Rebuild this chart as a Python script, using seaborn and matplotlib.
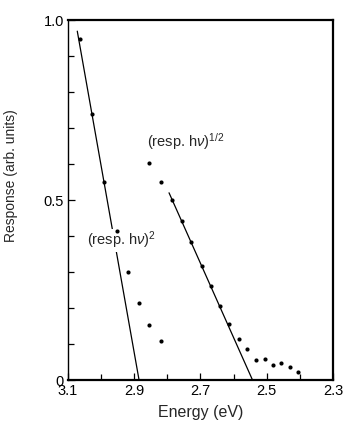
import matplotlib
matplotlib.use("Agg")
import matplotlib.pyplot as plt
import seaborn as sns
import numpy as np
import pandas as pd
from matplotlib.ticker import MultipleLocator, FixedLocator

# (resp. h nu)^2 data
e_sq = [3.064, 3.028, 2.990, 2.953, 2.920, 2.885, 2.854, 2.819]
r_sq = [0.946, 0.740, 0.549, 0.415, 0.301, 0.215, 0.154, 0.108]
# linear fit for (resp. h nu)^2
fit_sq_e = [3.072, 2.8855]
fit_sq_r = [0.969, 0.0]

# (resp. h nu)^1/2 data
e_half = [2.854, 2.818, 2.786, 2.757, 2.728, 2.696, 2.669, 2.642, 2.615,
          2.584, 2.559, 2.532, 2.506, 2.482, 2.457, 2.430, 2.407]
r_half = [0.602, 0.549, 0.499, 0.443, 0.382, 0.318, 0.261, 0.206, 0.155,
          0.115, 0.085, 0.056, 0.058, 0.042, 0.046, 0.037, 0.021]
fit_half_e = [2.795, 2.543]
fit_half_r = [0.520, 0.0]

x_ticks = [3.1, 2.9, 2.7, 2.5, 2.3]
y_ticks = [0, 0.5, 1.0]
y_ticklabels = ["0", "0.5", "1.0"]

sns.set_theme(style="white")
plt.rcParams['font.family'] = ['Liberation Sans', 'DejaVu Sans']
plt.rcParams['mathtext.fontset'] = 'custom'
plt.rcParams['mathtext.rm'] = 'Liberation Sans'
plt.rcParams['mathtext.it'] = 'Liberation Sans:italic'

fig = plt.figure(figsize=(3.43, 4.26), dpi=100)
ax = fig.add_axes([68/343, 46/426, 265/343, 360/426])

df_sq = pd.DataFrame({"E": e_sq, "R": r_sq})
df_half = pd.DataFrame({"E": e_half, "R": r_half})
sns.lineplot(x=fit_sq_e, y=fit_sq_r, ax=ax, color="black", linewidth=0.9, zorder=2)
sns.lineplot(x=fit_half_e, y=fit_half_r, ax=ax, color="black", linewidth=0.9, zorder=2)
sns.scatterplot(data=df_sq, x="E", y="R", ax=ax, color="black", s=9, linewidth=0, zorder=5)
sns.scatterplot(data=df_half, x="E", y="R", ax=ax, color="black", s=9, linewidth=0, zorder=5)

ax.text(3.043, 0.388, r"(resp. h$\nu$)$^2$", fontsize=10.5, ha="left", va="center",
        zorder=4, bbox=dict(facecolor="white", edgecolor="none", pad=0.5))
ax.text(2.862, 0.662, r"(resp. h$\nu$)$^{1/2}$", fontsize=10.5, ha="left", va="center", zorder=4)

ax.set_xlim(3.1, 2.3)
ax.set_ylim(0, 1.0)
ax.xaxis.set_major_locator(FixedLocator(x_ticks))
ax.xaxis.set_minor_locator(MultipleLocator(0.1))
ax.set_xticklabels([f"{t:.1f}" for t in x_ticks])
ax.yaxis.set_major_locator(FixedLocator(y_ticks))
ax.yaxis.set_minor_locator(MultipleLocator(0.1))
ax.set_yticklabels(y_ticklabels)

ax.tick_params(which="both", direction="in", colors="black", labelsize=10.5,
               bottom=True, left=True, right=False, top=False)
ax.tick_params(which="major", length=5, width=0.9, pad=3)
ax.tick_params(which="minor", length=4, width=0.9)

ax.set_xlabel("Energy (eV)", fontsize=11.5, labelpad=5)
ax.set_ylabel("Response (arb. units)", fontsize=10, labelpad=14)
ax.yaxis.set_label_coords(-0.19, 0.569)

for side, lw in [("top", 1.6), ("right", 1.6), ("bottom", 1.6), ("left", 1.0)]:
    ax.spines[side].set_visible(True)
    ax.spines[side].set_color("black")
    ax.spines[side].set_linewidth(lw)

fig.savefig("out.png", dpi=100, facecolor="white")
